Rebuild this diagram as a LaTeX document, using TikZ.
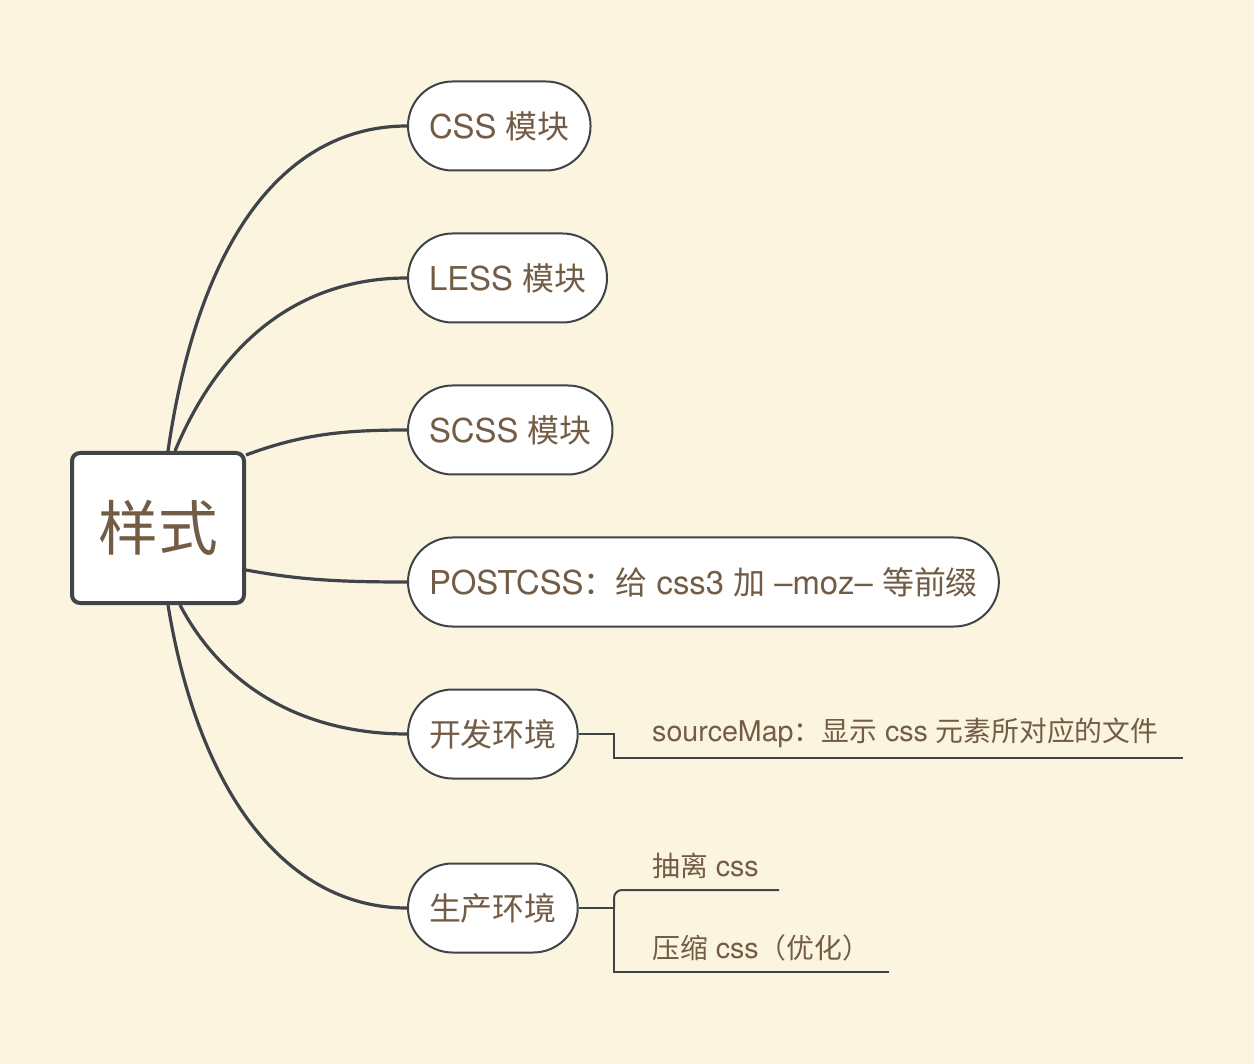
\documentclass[tikz,border=0pt]{standalone}
\usepackage{fontspec}
\setmainfont[Scale=1.06]{TeX Gyre Heros}
\newfontfamily\cjk[Scale=1.03]{Noto Sans CJK SC}
\definecolor{bg}{HTML}{FBF5E0}
\definecolor{edge}{HTML}{3E4448}
\definecolor{txt}{HTML}{735C45}
\begin{document}
\begin{tikzpicture}[x=1pt,y=-1pt,
  every node/.style={text=txt},
  root/.style={draw=edge,line width=4pt,fill=white,rounded corners=8pt,minimum width=172pt,minimum height=150pt,font=\fontsize{58}{58}\selectfont\cjk},
  branch/.style={draw=edge,line width=2pt,fill=white,rounded corners=44.5pt,minimum height=89pt,inner xsep=21pt,anchor=west,font=\fontsize{31}{31}\selectfont},
  leaf/.style={anchor=west,inner sep=0pt,font=\fontsize{27}{27}\selectfont},
  conn/.style={draw=edge,line width=3.2pt},
  sub/.style={draw=edge,line width=2pt}]
\fill[bg] (0,0) rectangle (1254,1064);
\useasboundingbox (0,0) rectangle (1254,1064);
\node[root] (c) at (158,528) {样式};
\node[branch] (css) at (407,126) {CSS {\cjk 模块}};
\node[branch] (less) at (407,278) {LESS {\cjk 模块}};
\node[branch] (scss) at (407,430) {SCSS {\cjk 模块}};
\node[branch] (post) at (407,582) {POSTCSS{\cjk ：给} css3 {\cjk 加} –moz– {\cjk 等前缀}};
\node[branch] (dev) at (407,734) {\cjk 开发环境};
\node[branch] (prod) at (407,908) {\cjk 生产环境};
\draw[conn] ([xshift=10pt]c.north) .. controls (200,230) and (290,126) .. (css.west);
\draw[conn] ([xshift=17pt]c.north) .. controls (230,320) and (320,278) .. (less.west);
\draw[conn] ([yshift=73pt]c.east) .. controls (300,435) and (340,430) .. (scss.west);
\draw[conn] ([yshift=-42pt]c.east) .. controls (300,580) and (340,582) .. (post.west);
\draw[conn] ([xshift=22pt]c.south) .. controls (230,700) and (320,734) .. (dev.west);
\draw[conn] ([xshift=10pt]c.south) .. controls (200,800) and (290,908) .. (prod.west);
% dev sub
\node[leaf] (sm) at (652,733) {sourceMap{\cjk ：显示} css {\cjk 元素所对应的文件}};
\coordinate (dj) at (614,734);
\coordinate (ds) at (614,758);
\coordinate (de) at (1183,758);
\draw[sub] (dev.east) -- (dj) -- (ds) -- (de);
% prod sub
\node[leaf] (cl) at (652,866) {{\cjk 抽离} css};
\node[leaf] (ys) at (652,948) {{\cjk 压缩} css{\cjk （优化）}};
\coordinate (pj) at (614,908);
\coordinate (p1s) at (614,890);
\coordinate (p1e) at (779,890);
\coordinate (p2s) at (614,972);
\coordinate (p2e) at (889,972);
\draw[sub] (prod.east) -- (pj);
\draw[sub] (p2e) -- (p2s) -- (pj);
\draw[sub,rounded corners=8pt] (pj) -- (p1s) -- (p1e);
\end{tikzpicture}
\end{document}
